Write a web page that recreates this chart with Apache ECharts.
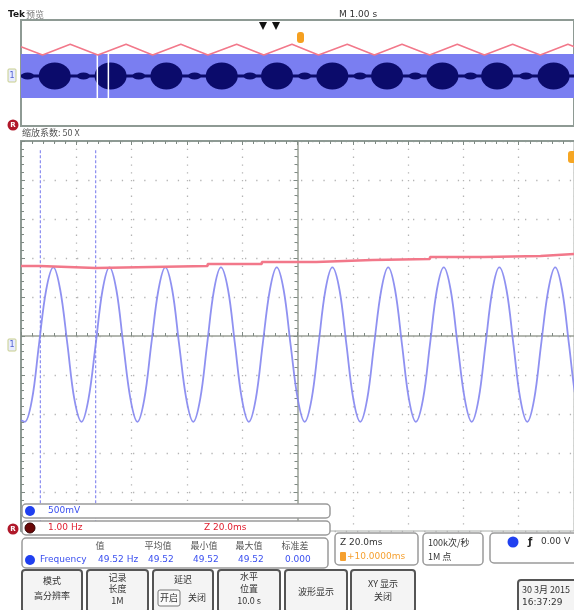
<!DOCTYPE html>
<html>
<head>
<meta charset="utf-8">
<script src="https://cdn.jsdelivr.net/npm/echarts@6/dist/echarts.min.js"></script>
<style>html,body{margin:0;padding:0;background:#fff}#c{width:574px;height:610px}</style>
</head>
<body>
<div id="c"></div>
<script>
// ---------- Overview (preview, M 1.00 s/div), x in seconds ----------
const ovRefT = [0, 0.39, 0.89, 1.39, 1.90, 2.38, 2.89, 3.38, 3.90, 4.39, 4.90, 5.38, 5.90, 6.39, 6.89, 7.39, 7.89, 8.38, 8.89, 9.39, 9.89, 10.39];
const ovRefV = [29.3, 21, 31.7, 21, 31.7, 21, 31.7, 21, 31.7, 21, 31.7, 21, 31.7, 21, 31.7, 21, 31.7, 21, 31.7, 21, 31.7, 21];
const ovBandT = [0, 10];
const ovBandLow = -22;
const ovBandHigh = 22;
const ovBlobT = [0.61, 1.62, 2.63, 3.63, 4.63, 5.63, 6.62, 7.62, 8.61, 9.63];
const ovSmallBlobT = [0.12, 1.13, 2.13, 3.14, 4.14, 5.13, 6.13, 7.13, 8.13, 9.13];
const ovZoomT = [1.38, 1.58];

// ---------- Main (zoom 50X, 20 ms/div, 500 mV/div) ----------
const ch1T = [0, 1.4, 4.0, 6.5, 9.1, 11.7, 14.2, 16.8, 19.3, 21.9, 24.4, 27.0, 29.5, 32.0, 34.5, 37.0, 39.6, 42.1, 44.6, 47.1, 49.7, 52.2, 54.7, 57.2, 59.8, 62.3, 64.8, 67.3, 69.8, 72.3, 74.9, 77.4, 79.9, 82.4, 84.9, 87.4, 90.0, 92.5, 95.0, 97.5, 100.1, 102.6, 105.1, 107.6, 110.1, 112.6, 115.2, 117.7, 120.2, 122.7, 125.2, 127.7, 130.3, 132.8, 135.3, 137.8, 140.3, 142.8, 145.4, 147.9, 150.4, 152.9, 155.4, 157.9, 160.5, 163.0, 165.5, 168.0, 170.5, 173.0, 175.6, 178.1, 180.6, 183.1, 185.6, 188.1, 190.7, 193.2, 195.7, 198.2, 200.7, 203.2];
const ch1V = [-1.08, -1.10, -0.81, -0.11, 0.59, 0.88, 0.59, -0.11, -0.81, -1.10, -0.81, -0.11, 0.59, 0.88, 0.59, -0.11, -0.81, -1.10, -0.81, -0.11, 0.59, 0.88, 0.59, -0.11, -0.81, -1.10, -0.81, -0.11, 0.59, 0.88, 0.59, -0.11, -0.81, -1.10, -0.81, -0.11, 0.59, 0.88, 0.59, -0.11, -0.81, -1.10, -0.81, -0.11, 0.59, 0.88, 0.59, -0.11, -0.81, -1.10, -0.81, -0.11, 0.59, 0.88, 0.59, -0.11, -0.81, -1.10, -0.81, -0.11, 0.59, 0.88, 0.59, -0.11, -0.81, -1.10, -0.81, -0.11, 0.59, 0.88, 0.59, -0.11, -0.81, -1.10, -0.81, -0.11, 0.59, 0.88, 0.59, -0.11, -0.81, -1.10];
const refT = [0, 6.8, 27.1, 47.1, 67.5, 87.1, 106.8, 127.1, 147.9, 167.5, 187.9, 200];
const refV = [0.897, 0.872, 0.885, 0.897, 0.923, 0.949, 0.974, 0.987, 1.013, 1.026, 1.051, 1.051];
const cursorT = [7.0, 27.0];
const cursorTop = 2.38;
const cursorBottom = -2.5;

// ---------- Readouts ----------
const measHeaders = ['值', '平均值', '最小值', '最大值', '标准差'];
const measValues = ['49.52 Hz', '49.52', '49.52', '49.52', '0.000'];

const FONT = '"DejaVu Sans", "Noto Sans", sans-serif';
const FONTCN = '"Noto Sans CJK SC", "DejaVu Sans", sans-serif';
const PINK = '#f2788a';
const TRACE = '#8385ef';
const NAVY = '#0b0b6b';
const BAND = '#7a7ef1';
const BORDER = '#8e9a94';

const zip = (a, b) => a.map((v, i) => [v, b[i]]);

function txt(x, y, s, fill, size, align, extra) {
  return {
    type: 'text', x: x, y: y, z: 200,
    style: { text: s, fill: fill, font: (extra && extra.bold ? 'bold ' : '') + size + 'px ' + ((extra && extra.cn) ? FONTCN : FONT),
      textAlign: align || 'left', align: align || 'left', textVerticalAlign: 'middle', verticalAlign: 'middle' }
  };
}
function box(x, y, w, h, stroke, fill, lw, r) {
  return { type: 'rect', z: 150, shape: { x: x, y: y, width: w, height: h, r: r == null ? 4 : r },
    style: { fill: fill || '#fff', stroke: stroke, lineWidth: lw || 1.5 } };
}
function dot(cx, cy, r, fill, stroke) {
  return { type: 'circle', z: 190, shape: { cx: cx, cy: cy, r: r }, style: { fill: fill, stroke: stroke || null, lineWidth: 1 } };
}

const g = [];
// top header
g.push(txt(8, 15, 'Tek', '#1a1a1a', 9, 'left', { bold: true }));
g.push(txt(26, 15, '预览', '#777', 9, 'left', { cn: true }));
g.push(txt(358, 15, 'M 1.00 s', '#333', 9, 'center'));
g.push({ type: 'polygon', z: 190, shape: { points: [[259, 22], [267, 22], [263, 30]] }, style: { fill: '#111' } });
g.push({ type: 'polygon', z: 190, shape: { points: [[272, 22], [280, 22], [276, 30]] }, style: { fill: '#111' } });
g.push({ type: 'rect', z: 190, shape: { x: 297, y: 32, width: 7, height: 11, r: 3 }, style: { fill: '#f5a020' } });
// ch1 marker overview
g.push({ type: 'rect', z: 190, shape: { x: 8, y: 69, width: 8, height: 13, r: 1 }, style: { fill: '#e8ecff', stroke: '#c9cf8a', lineWidth: 1 } });
g.push(txt(12, 76, '1', '#5060d0', 8, 'center'));
// R icon top
g.push(dot(13, 125, 5.5, '#b0182a'));
g.push(txt(13, 125, 'R', '#fff', 7, 'center', { bold: true }));
// zoom label
g.push(txt(22, 133, '缩放系数: 50 X', '#555', 9, 'left', { cn: true }));
// right orange marker main
g.push({ type: 'rect', z: 190, shape: { x: 568, y: 151, width: 9, height: 12, r: 3 }, style: { fill: '#f6a623' } });
// ch1 marker main
g.push({ type: 'rect', z: 190, shape: { x: 8, y: 339, width: 8, height: 12, r: 1 }, style: { fill: '#e8ecff', stroke: '#c9cf8a', lineWidth: 1 } });
g.push(txt(12, 345, '1', '#5060d0', 8, 'center'));

// bottom readout box A
g.push(box(22, 504, 308, 14, '#9a9a9a', '#fff'));
g.push(dot(30, 511, 5, '#2040f0'));
g.push(txt(48, 511, '500mV', '#3a4ff0', 9, 'left'));
// box B
g.push(box(22, 521, 308, 14, '#9a9a9a', '#fff'));
g.push(dot(30, 528, 5, '#6a0808', '#300'));
g.push(txt(48, 528, '1.00 Hz', '#e02030', 9, 'left'));
g.push(txt(204, 528, 'Z 20.0ms', '#e02030', 9, 'left'));
g.push(dot(13, 529, 5.5, '#b0182a'));
g.push(txt(13, 529, 'R', '#fff', 7, 'center', { bold: true }));
// measurement box
g.push(box(22, 538, 306, 30, '#9a9a9a', '#fff'));
g.push(dot(30, 560, 5, '#2040f0'));
g.push(txt(40, 560, 'Frequency', '#3a4ff0', 9, 'left'));
const hx = [100, 158, 204, 249, 295];
measHeaders.forEach((h, i) => g.push(txt(hx[i], 546, h, '#555', 9, 'center', { cn: true })));
const vx = [98, 148, 193, 238, 285];
measValues.forEach((v, i) => g.push(txt(vx[i], 560, v, '#3a4ff0', 9, 'left')));
// right boxes
g.push(box(335, 533, 83, 32, '#9a9a9a', '#fff'));
g.push(txt(340, 543, 'Z 20.0ms', '#333', 9, 'left'));
g.push({ type: 'rect', z: 190, shape: { x: 340, y: 552, width: 6, height: 9, r: 1 }, style: { fill: '#f5a030' } });
g.push(txt(347, 557, '+10.0000ms', '#f5a030', 9, 'left'));
g.push(box(423, 533, 60, 32, '#9a9a9a', '#fff'));
g.push(txt(428, 543, '100k次/秒', '#333', 9, 'left', { cn: true }));
g.push(txt(428, 557, '1M 点', '#333', 9, 'left', { cn: true }));
g.push(box(490, 533, 100, 30, '#9a9a9a', '#fff'));
g.push(dot(513, 542, 5.5, '#2040f0'));
g.push(txt(528, 542, 'ƒ', '#222', 10, 'left', { bold: true }));
g.push(txt(541, 542, '0.00 V', '#333', 9, 'left'));
// buttons
function button(x, w, lines, ys) {
  g.push(box(x, 570, w, 42, '#555', '#f4f4f4', 2, 3));
  lines.forEach((s, i) => g.push(txt(x + w / 2, ys[i], s, '#333', 9, 'center', { cn: true })));
}
button(22, 60, ['模式', '高分辨率'], [581, 596]);
button(87, 61, ['记录', '长度', '1M'], [578, 589, 601]);
button(153, 60, ['延迟'], [580]);
g.push(box(158, 590, 22, 16, '#777', '#fafafa', 1, 2));
g.push(txt(169, 598, '开启', '#333', 9, 'center', { cn: true }));
g.push(txt(197, 598, '关闭', '#333', 9, 'center', { cn: true }));
button(218, 62, ['水平', '位置', '10.0 s'], [577, 589, 601]);
button(285, 62, ['波形显示'], [592]);
button(351, 64, ['XY 显示', '关闭'], [584, 597]);
g.push(box(518, 580, 70, 32, '#555', '#f4f4f4', 2, 3));
g.push(txt(522, 590, '30 3月 2015', '#333', 9, 'left', { cn: true }));
g.push(txt(522, 603, '16:37:29', '#333', 9, 'left'));

const tickC = '#7f8a84';
const option = {
  animation: false,
  backgroundColor: '#fff',
  grid: [
    { left: 21, top: 20, width: 560, height: 106, show: true, borderColor: BORDER, borderWidth: 2, backgroundColor: 'transparent' },
    { left: 21, top: 141, width: 560, height: 390, show: true, borderColor: '#a8aca8', borderWidth: 1, backgroundColor: 'transparent' }
  ],
  xAxis: [
    { gridIndex: 0, type: 'value', min: 0, max: 10, show: false },
    { gridIndex: 1, type: 'value', min: 0, max: 200, interval: 20, position: 'bottom',
      axisLine: { onZero: true, lineStyle: { color: '#9aa096', width: 1.5 } },
      axisTick: { show: true, inside: true, length: 4, lineStyle: { color: tickC } },
      minorTick: { show: true, splitNumber: 5, length: 3, lineStyle: { color: tickC } },
      axisLabel: { show: false },
      splitLine: { show: true, lineStyle: { color: '#b4b4b4', width: 1.3, type: [1.3, 6.5] } } },
    { gridIndex: 1, type: 'value', min: -100, max: 100, interval: 20, position: 'top',
      axisLine: { onZero: false, lineStyle: { color: BORDER, width: 2 } },
      axisTick: { show: true, inside: true, length: 4, lineStyle: { color: tickC } },
      minorTick: { show: true, splitNumber: 5, length: 3, lineStyle: { color: tickC } },
      axisLabel: { show: false }, splitLine: { show: false } }
  ],
  yAxis: [
    { gridIndex: 0, type: 'value', min: -50, max: 56, show: false },
    { gridIndex: 1, type: 'value', min: -2.5, max: 2.5, interval: 0.5, position: 'right',
      axisLine: { onZero: true, onZeroAxisIndex: 2, lineStyle: { color: '#9aa096', width: 1.5 } },
      axisTick: { show: true, inside: true, length: 4, lineStyle: { color: tickC } },
      minorTick: { show: true, splitNumber: 5, length: 3, lineStyle: { color: tickC } },
      axisLabel: { show: false },
      splitLine: { show: true, lineStyle: { color: '#b4b4b4', width: 1.3, type: [1.3, 9.9] } } },
    { gridIndex: 1, type: 'value', min: -2.5, max: 2.5, interval: 0.5, position: 'left',
      axisLine: { onZero: false, lineStyle: { color: BORDER, width: 2 } },
      axisTick: { show: true, inside: true, length: 4, lineStyle: { color: tickC } },
      minorTick: { show: true, splitNumber: 5, length: 3, lineStyle: { color: tickC } },
      axisLabel: { show: false }, splitLine: { show: false } }
  ],
  series: [
    { type: 'custom', xAxisIndex: 0, yAxisIndex: 0, silent: true, z: 2,
      data: [[ovBandT[0], ovBandT[1], ovBandLow, ovBandHigh]],
      encode: { x: [0, 1], y: [2, 3] },
      renderItem: function (params, api) {
        const p0 = api.coord([api.value(0), api.value(3)]);
        const p1 = api.coord([api.value(1), api.value(2)]);
        return { type: 'rect', shape: { x: p0[0], y: p0[1], width: p1[0] - p0[0], height: p1[1] - p0[1] }, style: { fill: BAND } };
      } },
    { type: 'line', xAxisIndex: 0, yAxisIndex: 0, symbol: 'none', data: ovBandT.map(t => [t, 0]), lineStyle: { color: NAVY, width: 3 }, z: 3 },
    { type: 'scatter', xAxisIndex: 0, yAxisIndex: 0, symbol: 'circle', symbolSize: [32, 27], data: ovBlobT.map(t => [t, 0]), itemStyle: { color: NAVY, opacity: 1 }, z: 4 },
    { type: 'scatter', xAxisIndex: 0, yAxisIndex: 0, symbol: 'circle', symbolSize: [13, 7], data: ovSmallBlobT.map(t => [t, 0]), itemStyle: { color: NAVY, opacity: 1 }, z: 4 },
    ...ovZoomT.map(t => ({ type: 'line', xAxisIndex: 0, yAxisIndex: 0, symbol: 'none', data: [[t, ovBandHigh], [t, ovBandLow]], lineStyle: { color: '#ffffff', width: 1.5 }, z: 5 })),
    { type: 'line', xAxisIndex: 0, yAxisIndex: 0, symbol: 'none', data: zip(ovRefT, ovRefV), lineStyle: { color: PINK, width: 1.5 }, z: 5 },

    ...cursorT.map(t => ({ type: 'line', xAxisIndex: 1, yAxisIndex: 1, symbol: 'none', data: [[t, cursorTop], [t, cursorBottom]], lineStyle: { color: '#8a8cf0', width: 1.2, type: [3, 2] }, z: 3 })),
    { type: 'line', xAxisIndex: 1, yAxisIndex: 1, symbol: 'none', smooth: 0.35, data: zip(ch1T, ch1V), lineStyle: { color: TRACE, width: 1.8, opacity: 0.9 }, z: 4 },
    { type: 'line', xAxisIndex: 1, yAxisIndex: 1, symbol: 'none', step: 'end', data: zip(refT, refV), lineStyle: { color: PINK, width: 2.5 }, z: 5 }
  ],
  graphic: { elements: g }
};
const chart = echarts.init(document.getElementById('c'), null, { renderer: 'canvas' });
chart.setOption(option);
</script>
</body>
</html>
